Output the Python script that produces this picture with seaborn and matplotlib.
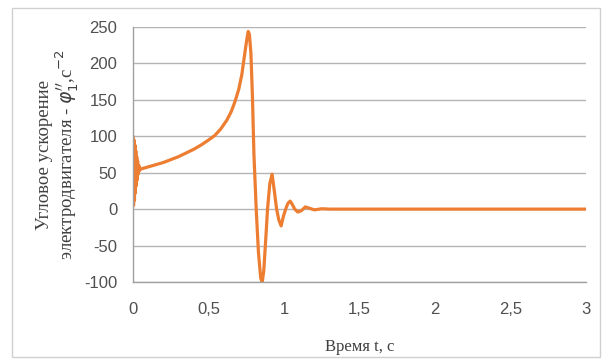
import matplotlib
matplotlib.use("Agg")
import matplotlib.pyplot as plt
import seaborn as sns
import pandas as pd
from matplotlib.patches import Rectangle

# Data
time_s = [0.0, 0.003, 0.006, 0.009, 0.012, 0.015, 0.018, 0.021, 0.024, 0.027, 0.030,
          0.034, 0.038, 0.043, 0.05, 0.1, 0.15, 0.2, 0.25, 0.3, 0.35, 0.4, 0.45, 0.5,
          0.54, 0.58, 0.62, 0.65, 0.675, 0.70, 0.72, 0.73, 0.745, 0.755, 0.762, 0.770,
          0.780, 0.790, 0.800, 0.815, 0.830, 0.845, 0.855, 0.865, 0.88, 0.89, 0.905,
          0.92, 0.935, 0.95, 0.965, 0.98, 0.995, 1.01, 1.025, 1.04, 1.055, 1.07, 1.09,
          1.115, 1.14, 1.17, 1.2, 1.25, 1.3, 1.5, 2.0, 2.5, 3.0]
accel = [100, 5, 95, 12, 88, 22, 80, 32, 72, 40, 66,
         48, 60, 53, 55, 58, 61, 64, 68, 72, 77, 82, 88, 95,
         101, 110, 122, 134, 148, 165, 185, 200, 222, 236, 244, 240,
         214, 155, 75, 0, -60, -95, -100, -85, -35, 0, 35,
         48, 25, 0, -15, -23, -10, 0, 8, 11, 6, 0, -4,
         -2, 3, 1, -1, 0.5, 0, 0, 0, 0, 0]

df = pd.DataFrame({"t": time_s, "a": accel})

sns.set_theme(style="white")
plt.rcParams["font.family"] = ["Liberation Sans", "DejaVu Sans"]
plt.rcParams["axes.unicode_minus"] = False

fig = plt.figure(figsize=(6.05, 3.61), dpi=100)
ax = fig.add_axes([0.22, 0.219, 0.749, 0.706])

sns.lineplot(data=df, x="t", y="a", ax=ax, color="#ED7D31", linewidth=2.3)

ax.set_xlim(0, 3)
ax.set_ylim(-100, 250)
ax.set_xticks([0, 0.5, 1, 1.5, 2, 2.5, 3])
ax.set_xticklabels(["0", "0,5", "1", "1,5", "2", "2,5", "3"])
ax.set_yticks([-100, -50, 0, 50, 100, 150, 200, 250])
ax.yaxis.grid(True, color="#b4b4b4", linewidth=1.0)
ax.xaxis.grid(False)

for s in ["top", "right"]:
    ax.spines[s].set_visible(False)
for s in ["left", "bottom"]:
    ax.spines[s].set_color("#a0a0a0")
    ax.spines[s].set_linewidth(1.0)

ax.tick_params(axis="both", labelsize=12, colors="#505050", length=5,
               width=0.8, direction="inout")
ax.tick_params(axis="x", pad=12)
ax.tick_params(axis="y", pad=9)

ax.set_xlabel("Время t, c", fontsize=12, family=["Liberation Serif", "DejaVu Serif"],
              color="#404040", labelpad=16)
ax.set_ylabel("Угловое ускорение\nэлектродвигателя - $\\varphi_1^{\\prime\\prime}$,c$^{-2}$",
              fontsize=13.5, family=["Liberation Serif", "DejaVu Serif"],
              color="#404040", labelpad=3, linespacing=1.0)

fig.patches.append(Rectangle((12 / 605, 4 / 361), 588 / 605, 349 / 361,
                             transform=fig.transFigure, fill=False,
                             edgecolor="#d0d0d0", linewidth=1.0))

fig.savefig("out.png", dpi=100)
